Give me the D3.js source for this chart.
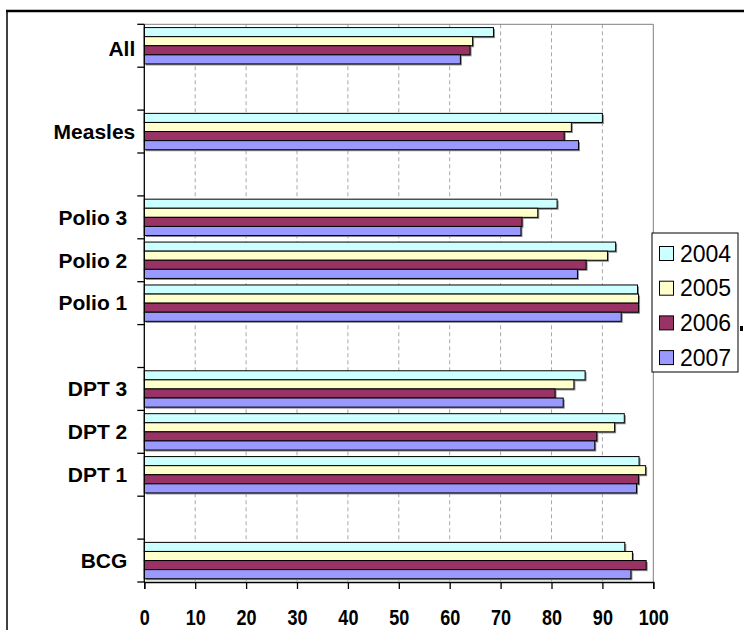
<!DOCTYPE html>
<html>
<head>
<meta charset="utf-8">
<script src="https://cdn.jsdelivr.net/npm/d3@7"></script>
<style>
  body { margin: 0; background: #fff; }
  svg { display: block; }
</style>
</head>
<body>
<div id="chart"></div>
<script>
// data
var rows = ["All", "", "Measles", "", "Polio 3", "Polio 2", "Polio 1", "", "DPT 3", "DPT 2", "DPT 1", "", "BCG"];
var categories = ["All", "Measles", "Polio 3", "Polio 2", "Polio 1", "DPT 3", "DPT 2", "DPT 1", "BCG"];
var years = ["2004", "2005", "2006", "2007"];
var v2004 = [68.6, 90.0, 81.1, 92.6, 96.9, 86.6, 94.3, 97.2, 94.4];
var v2005 = [64.5, 83.9, 77.3, 91.0, 97.1, 84.4, 92.4, 98.5, 95.9];
var v2006 = [64.0, 82.5, 74.2, 86.8, 97.1, 80.7, 88.9, 97.1, 98.6];
var v2007 = [62.1, 85.3, 74.0, 85.1, 93.7, 82.3, 88.5, 96.7, 95.6];
var xTicks = [0, 10, 20, 30, 40, 50, 60, 70, 80, 90, 100];
var colors = ["#ccffff", "#ffffcc", "#993366", "#9999ff"];

var series = [v2004, v2005, v2006, v2007];

var W = 744, H = 630;
var margin = { top: 24.3, left: 144.3, right: 744 - 653.3, bottom: 630 - 582 };
var width = W - margin.left - margin.right,
    height = H - margin.top - margin.bottom;

var svg = d3.select("#chart")
    .append("svg")
    .attr("width", W)
    .attr("height", H);

// outer frame
svg.append("line").attr("x1", 6).attr("x2", W).attr("y1", 11).attr("y2", 11)
    .attr("stroke", "#000").attr("stroke-width", 2.5);
svg.append("line").attr("x1", 7).attr("x2", 7).attr("y1", 11).attr("y2", H)
    .attr("stroke", "#000").attr("stroke-width", 1.5);

var g = svg.append("g")
    .attr("transform", "translate(" + margin.left + "," + margin.top + ")");

var x = d3.scaleLinear().domain([0, 100]).range([0, width]);
var y = d3.scaleBand().domain(d3.range(rows.length)).range([0, height]).padding(0);
var yInner = d3.scaleBand().domain(years).range([0, y.bandwidth()]).paddingInner(0).paddingOuter(0.36);

// dashed grid
g.selectAll(".grid")
    .data(xTicks.filter(function (d) { return d > 0 && d < 100; }))
    .enter().append("line")
    .attr("x1", d => x(d)).attr("x2", d => x(d))
    .attr("y1", 0).attr("y2", height)
    .attr("stroke", "#a8a8a8")
    .attr("stroke-dasharray", "4,3");

// plot border top/right
g.append("path")
    .attr("d", "M0,0H" + width + "V" + height)
    .attr("fill", "none")
    .attr("stroke", "#808080")
    .attr("stroke-width", 1);

// bars
var bars = [];
categories.forEach(function (c, i) {
    var r = rows.indexOf(c);
    years.forEach(function (yr, j) {
        bars.push({ row: r, year: yr, value: series[j][i], color: colors[j] });
    });
});

g.selectAll(".shadow")
    .data(bars)
    .enter().append("rect")
    .attr("x", 1.5)
    .attr("y", d => y(d.row) + yInner(d.year) + 1.5)
    .attr("width", d => x(d.value))
    .attr("height", yInner.bandwidth())
    .attr("fill", "#8a8a8a");

g.selectAll(".bar")
    .data(bars)
    .enter().append("rect")
    .attr("x", 0)
    .attr("y", d => y(d.row) + yInner(d.year))
    .attr("width", d => x(d.value))
    .attr("height", yInner.bandwidth())
    .attr("fill", d => d.color)
    .attr("stroke", "#000")
    .attr("stroke-width", 1);

// x axis
var xAxis = d3.axisBottom(x).tickValues(xTicks).tickSize(7).tickPadding(20).tickFormat(d3.format("d"));
var xg = g.append("g")
    .attr("transform", "translate(0," + height + ")")
    .call(xAxis);
xg.select(".domain").attr("stroke", "#000").attr("stroke-width", 1.3);
xg.selectAll(".tick line").attr("stroke", "#000").attr("stroke-width", 1.3);
xg.selectAll("text")
    .attr("fill", "#000")
    .attr("transform", "scale(0.82,1)")
    .style("font-family", "'Liberation Sans', Arial, sans-serif")
    .style("font-weight", "bold")
    .style("font-size", "22px");

// y axis: ticks on row boundaries
g.append("line")
    .attr("x1", 0).attr("x2", 0).attr("y1", 0).attr("y2", height)
    .attr("stroke", "#000").attr("stroke-width", 1.3);
g.selectAll(".ytick")
    .data(d3.range(rows.length + 1))
    .enter().append("line")
    .attr("x1", -7).attr("x2", 0)
    .attr("y1", d => d * y.step()).attr("y2", d => d * y.step())
    .attr("stroke", "#000").attr("stroke-width", 1.3);

// category labels
var labelShift = { "All": 0, "Measles": 0 };
g.selectAll(".cat")
    .data(categories)
    .enter().append("text")
    .attr("x", d => (d in labelShift) ? -9 : -17)
    .attr("y", d => y(rows.indexOf(d)) + y.bandwidth() / 2 + (d === "All" ? 3 : 0))
    .attr("dy", "0.35em")
    .attr("text-anchor", "end")
    .style("font-family", "'Liberation Sans', Arial, sans-serif")
    .style("font-weight", "bold")
    .style("font-size", "21px")
    .text(d => d);

// legend
var lg = svg.append("g").attr("transform", "translate(652,233)");
lg.append("rect")
    .attr("width", 86).attr("height", 139)
    .attr("fill", "#fff").attr("stroke", "#000").attr("stroke-width", 1);
var item = lg.selectAll(".item")
    .data(years)
    .enter().append("g")
    .attr("transform", (d, i) => "translate(0," + (20.5 + i * 34.7) + ")");
item.append("rect")
    .attr("x", 7.5).attr("y", -7)
    .attr("width", 14).attr("height", 14)
    .attr("fill", (d, i) => colors[i])
    .attr("stroke", "#000").attr("stroke-width", 1);
item.append("text")
    .attr("x", 28)
    .attr("dy", "0.36em")
    .style("font-family", "'Liberation Sans', Arial, sans-serif")
    .style("font-size", "23px")
    .text(d => d);

// stray dot right of legend
svg.append("rect").attr("x", 740).attr("y", 326).attr("width", 3).attr("height", 5).attr("fill", "#000");
</script>
</body>
</html>
